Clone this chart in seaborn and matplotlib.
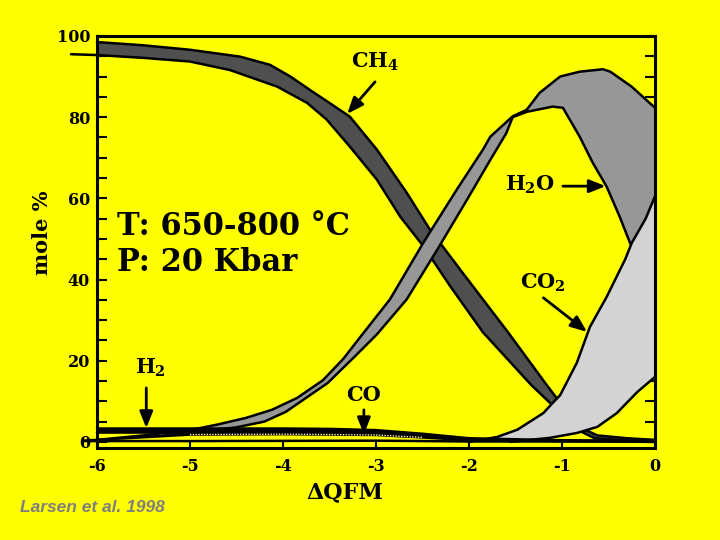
import numpy as np
import matplotlib
matplotlib.use("Agg")
import matplotlib.pyplot as plt
from matplotlib.ticker import MultipleLocator
import seaborn as sns

# Fluid composition vs. oxygen fugacity (Larsen et al. 1998)
# band edges: x = delta QFM, y = mole %

# CH4 band
ch4_top_x = [-6.0, -5.5, -5.0, -4.46, -4.14, -3.92, -3.71, -3.5, -3.28, -2.99, -2.67,
             -2.42, -2.03, -1.58, -1.18, -0.95, -0.8, -0.62, -0.3, 0.0]
ch4_top_y = [98.5, 97.7, 96.6, 94.9, 92.9, 90.0, 86.7, 83.5, 80.1, 72.0, 61.4,
             52.3, 40.5, 27.0, 14.5, 7.5, 3.5, 1.6, 0.9, 0.5]
ch4_bot_x = [-6.28, -6.0, -5.5, -5.0, -4.57, -4.06, -3.74, -3.53, -3.28, -2.99, -2.74,
             -2.49, -2.2, -1.85, -1.33, -0.94, -0.8, -0.65, -0.3, 0.0]
ch4_bot_y = [95.5, 95.3, 94.6, 93.7, 91.6, 87.5, 83.5, 79.4, 72.7, 64.6, 55.5,
             48.2, 38.3, 27.0, 14.0, 5.5, 2.6, 0.9, 0.3, 0.0]

# H2O band
h2o_top_x = [-6.0, -5.5, -5.0, -4.7, -4.4, -4.12, -3.85, -3.57, -3.35, -3.17, -2.85,
             -2.49, -2.13, -1.85, -1.77, -1.53, -1.38, -1.24, -1.02, -0.81, -0.56,
             -0.48, -0.25, 0.0]
h2o_top_y = [0.5, 1.6, 2.9, 4.3, 5.9, 7.9, 10.8, 15.2, 20.5, 25.8, 35.1,
             49.1, 62.2, 72.0, 75.2, 80.2, 81.8, 86.0, 90.0, 91.2, 91.8,
             91.2, 87.5, 82.3]
h2o_bot_x = [-6.0, -5.5, -5.0, -4.5, -4.2, -3.97, -3.52, -3.23, -2.99, -2.67, -2.34,
             -2.02, -1.77, -1.6, -1.53, -1.38, -1.1, -0.99, -0.81, -0.67, -0.52,
             -0.38, -0.27, -0.1, 0.0]
h2o_bot_y = [0.0, 1.0, 2.2, 3.6, 5.0, 7.4, 14.5, 21.0, 26.5, 35.1, 47.4,
             59.7, 69.5, 76.0, 80.0, 81.3, 82.6, 82.3, 75.2, 68.8, 62.9,
             55.5, 49.1, 41.0, 36.0]

# CO2 band
co2_top_x = [-2.0, -1.7, -1.48, -1.2, -1.1, -1.02, -0.84, -0.7, -0.52, -0.32, -0.25, -0.1, 0.0]
co2_top_y = [0.0, 1.2, 3.0, 7.1, 9.6, 11.5, 19.5, 28.3, 35.7, 45.0, 49.0, 55.0, 60.5]
co2_bot_x = [-1.56, -1.13, -0.84, -0.62, -0.41, -0.19, 0.0]
co2_bot_y = [0.0, 1.0, 2.2, 3.7, 7.1, 12.3, 16.0]

# H2 band
h2_x = [-6.0, -4.0, -3.5, -3.0, -2.5, -2.0, -1.0, 0.0]
h2_top = [3.3, 3.3, 3.2, 2.9, 2.0, 0.9, 0.4, 0.2]
h2_bot = [2.3, 2.3, 2.3, 2.1, 1.4, 0.5, 0.2, 0.0]

# CO band
co_x = [-6.15, -5.0, -4.0, -3.0, -2.5, -2.0, -1.0, 0.0]
co_top = [0.3, 1.8, 1.9, 1.7, 1.1, 0.4, 0.3, 0.2]
co_bot = [0.2, 0.2, 0.25, 0.3, 0.2, 0.1, 0.1, 0.1]

# labels: (text, text pos, arrow tail, arrow tip)
labels = [
    ("CH$_4$", (-3.01, 93.6), (-3.01, 88.7), (-3.31, 80.8)),
    ("H$_2$O", (-1.34, 63.3), (-0.99, 63.0), (-0.53, 63.0)),
    ("CO$_2$", (-1.21, 39.2), (-1.2, 35.5), (-0.73, 27.1)),
    ("H$_2$", (-5.43, 18.2), (-5.47, 13.3), (-5.47, 3.4)),
    ("CO", (-3.13, 11.6), (-3.13, 7.9), (-3.13, 1.9)),
]

sns.set_style("ticks")
plt.rcParams["font.family"] = ["DejaVu Serif"]
plt.rcParams["font.weight"] = "bold"
plt.rcParams["mathtext.default"] = "regular"
plt.rcParams["axes.unicode_minus"] = False
plt.rcParams["text.color"] = "black"
plt.rcParams["xtick.color"] = "black"
plt.rcParams["ytick.color"] = "black"
plt.rcParams["xtick.labelcolor"] = "black"
plt.rcParams["ytick.labelcolor"] = "black"

yellow = "#ffff00"
fig = plt.figure(figsize=(7.2, 5.4), dpi=100, facecolor=yellow)
ax = fig.add_axes([0.1347, 0.1704, 0.775, 0.763])
ax.set_facecolor(yellow)


def band(tx, ty, bx, by, color, z):
    ax.fill(np.r_[tx, bx[::-1]], np.r_[ty, by[::-1]], color=color, lw=0, zorder=z)
    for xs, ys in ((tx, ty), (bx, by)):
        sns.lineplot(x=xs, y=ys, sort=False, estimator=None, color="black",
                     lw=1.8, ax=ax, zorder=z + 0.1, clip_on=False)


band(ch4_top_x, ch4_top_y, ch4_bot_x, ch4_bot_y, "#4f4f4f", 2)
band(h2o_top_x, h2o_top_y, h2o_bot_x, h2o_bot_y, "#979797", 3)
band(co2_top_x, co2_top_y, co2_bot_x, co2_bot_y, "#d3d3d3", 4)
band(h2_x, h2_top, h2_x, h2_bot, "black", 5)
band(co_x, co_top, co_x, co_bot, yellow, 5)
sns.lineplot(x=co_x[1:5], y=co_top[1:5], sort=False, estimator=None, color="#fff6b0",
             lw=1.0, linestyle=(0, (1, 1)), ax=ax, zorder=6)

ax.set_xlim(-6, 0)
ax.set_ylim(-1.5, 100)
ax.set_xlabel("")
ax.set_ylabel("")
ax.xaxis.set_major_locator(MultipleLocator(1))
ax.yaxis.set_major_locator(MultipleLocator(20))
ax.yaxis.set_minor_locator(MultipleLocator(5))
ax.tick_params(axis="x", direction="in", length=6, width=1.5, top=False,
               labelsize=11.5, pad=7, colors="black")
ax.tick_params(axis="y", which="both", direction="in", length=7, width=1.5,
               right=True, labelsize=11.5, pad=5, colors="black")
for sp in ax.spines.values():
    sp.set_linewidth(2.2)
    sp.set_color("black")
    sp.set_zorder(10)

for txt, pos, tail, tip in labels:
    ax.text(pos[0], pos[1], txt, ha="center", va="center", fontsize=15,
            color="black", zorder=8)
    ax.annotate("", xy=tip, xytext=tail, zorder=8,
                arrowprops=dict(arrowstyle="-|>,head_length=0.45,head_width=0.18",
                                color="black", lw=2, shrinkA=0, shrinkB=0,
                                mutation_scale=22))

ax.text(-5.78, 53, "T: 650-800 °C", fontsize=22, va="center", ha="left",
        color="black", zorder=8)
ax.text(-5.78, 44.3, "P: 20 Kbar", fontsize=22, va="center", ha="left",
        color="black", zorder=8)

fig.text(0.058, 0.569, "mole %", rotation=90, fontsize=15, ha="center", va="center",
         color="black")
fig.text(0.479, 0.089, "ΔQFM", fontsize=16, ha="center", va="center", color="black")
fig.text(0.028, 0.061, "Larsen et al. 1998", fontsize=12.5, ha="left", va="center",
         family="Liberation Sans", style="italic", color="#7f7f7f")

fig.savefig("out.png", dpi=100, facecolor=yellow)
